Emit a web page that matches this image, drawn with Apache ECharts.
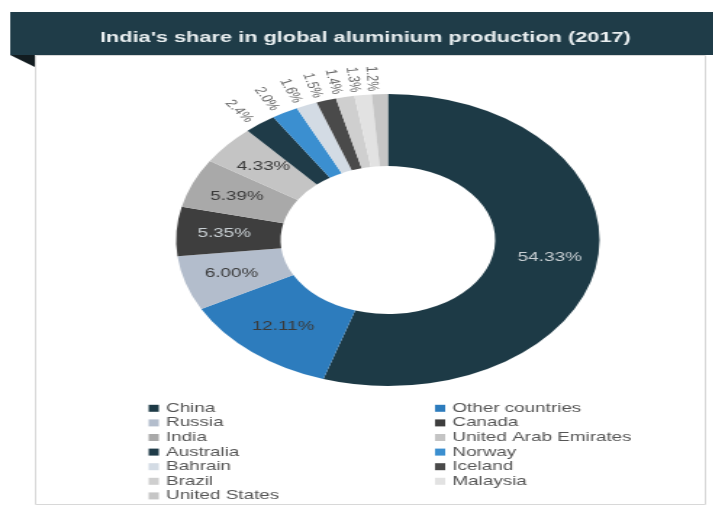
<!DOCTYPE html>
<html>
<head>
<meta charset="utf-8">
<script src="https://cdn.jsdelivr.net/npm/echarts@6/dist/echarts.min.js"></script>
<style>
  html, body { margin: 0; padding: 0; background: #fff; overflow: hidden; }
  #wrap { width: 713px; height: 513px; overflow: hidden; }
  /* the reference picture is stretched sideways, so the chart is too */
  #chart { width: 492px; height: 513px; transform: scaleX(1.45); transform-origin: 0 0; }
</style>
</head>
<body>
<div id="wrap"><div id="chart"></div></div>
<script>
var countries = ['China', 'Other countries', 'Russia', 'Canada', 'India', 'United Arab Emirates',
  'Australia', 'Norway', 'Bahrain', 'Iceland', 'Brazil', 'Malaysia', 'United States'];
var shares = [54.33, 12.11, 6.00, 5.35, 5.39, 4.33, 2.4, 2.0, 1.6, 1.5, 1.4, 1.3, 1.2];
var sliceColors = ['#1d3a46', '#2d7cbd', '#b3bdcc', '#3e3e3e', '#a9a9a9', '#c4c4c4',
  '#1f3b48', '#3b8fd0', '#d3dbe4', '#4a4a4a', '#cfcfcf', '#e2e2e2', '#c6c6c6'];
var darkSlices = ['China', 'Canada', 'Australia', 'Iceland'];

var leftColumn = ['China', 'Russia', 'India', 'Australia', 'Bahrain', 'Brazil', 'United States'];
var rightColumn = ['Other countries', 'Canada', 'United Arab Emirates', 'Norway', 'Iceland', 'Malaysia'];

var font = 'Liberation Sans, Arial, sans-serif';
var chart = echarts.init(document.getElementById('chart'));

var pieData = countries.map(function (name, i) {
  var big = shares[i] >= 3;
  return {
    name: name,
    value: shares[i],
    itemStyle: { color: sliceColors[i] },
    label: big ? {
      position: 'inside',
      fontSize: 13,
      color: darkSlices.indexOf(name) >= 0 ? '#c9d0d4' : '#3a3a3a'
    } : {
      position: 'outside',
      rotate: 'radial',
      fontSize: 11,
      color: '#666'
    },
    labelLine: { show: false, length: 3, length2: 0 }
  };
});

function legendCol(data, left) {
  return {
    orient: 'vertical',
    left: left,
    top: 396,
    data: data,
    icon: 'rect',
    itemWidth: 7,
    itemHeight: 7,
    itemGap: 0,
    selectedMode: false,
    textStyle: { fontSize: 13, color: '#555', lineHeight: 14.6, fontFamily: font }
  };
}

var option = {
  animation: false,
  title: {
    text: "India's share in global aluminium production (2017)",
    left: 247,
    textAlign: 'center',
    top: 25,
    textStyle: { color: '#e8eef0', fontSize: 15, fontWeight: 'bold', fontFamily: font }
  },
  graphic: [
    { type: 'rect', z: -10, shape: { x: 24.5, y: 55.5, width: 462, height: 449 }, style: { fill: '#fff', stroke: '#d8d8d8', lineWidth: 1 } },
    { type: 'polygon', z: -9, shape: { points: [[7, 55], [24, 55], [24, 67]] }, style: { fill: '#121c20' } },
    { type: 'rect', z: -9, shape: { x: 7, y: 12, width: 485, height: 43 }, style: { fill: '#1f3c48' } }
  ],
  legend: [legendCol(leftColumn, 97.5), legendCol(rightColumn, 295)],
  series: [{
    type: 'pie',
    center: [267.5, 240],
    radius: [74, 146],
    startAngle: 90,
    clockwise: true,
    avoidLabelOverlap: false,
    label: {
      fontFamily: font,
      formatter: function (p) {
        return (p.value >= 3 ? p.value.toFixed(2) : p.value.toFixed(1)) + '%';
      }
    },
    data: pieData
  }]
};

chart.setOption(option);
</script>
</body>
</html>
